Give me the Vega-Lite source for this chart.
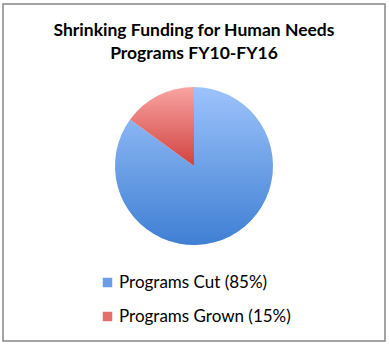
{
  "$schema": "https://vega.github.io/schema/vega-lite/v6.json",
  "width": 382,
  "height": 337,
  "autosize": "none",
  "padding": {"left": 3, "top": 4, "right": 4, "bottom": 4},
  "background": "white",
  "view": {"stroke": "#868686", "strokeWidth": 1.5, "fill": "white"},
  "config": {"font": "Lato"},
  "title": {
    "text": ["Shrinking Funding for Human Needs", "Programs FY10-FY16"],
    "font": "Lato",
    "fontSize": 17.5,
    "fontWeight": "bold",
    "color": "#000000",
    "anchor": "middle",
    "frame": "group",
    "lineHeight": 23,
    "offset": -58
  },
  "data": {
    "values": [
      {"category": "Programs Cut (85%)", "share": 85},
      {"category": "Programs Grown (15%)", "share": 15}
    ]
  },
  "encoding": {
    "theta": {"field": "share", "type": "quantitative", "stack": true},
    "order": {"field": "category", "sort": "ascending"}
  },
  "layer": [
    {
      "mark": {"type": "arc", "outerRadius": 79, "yOffset": -6.5, "stroke": null},
      "encoding": {
        "fill": {
          "condition": {
            "test": "datum.category === 'Programs Cut (85%)'",
            "value": {
              "gradient": "linear", "x1": 0, "y1": 0, "x2": 0, "y2": 1,
              "stops": [
                {"offset": 0, "color": "#9dc3fb"},
                {"offset": 1, "color": "#3f7fd3"}
              ]
            }
          },
          "value": {
            "gradient": "linear", "x1": 0, "y1": 0, "x2": 0, "y2": 1,
            "stops": [
              {"offset": 0, "color": "#f8a4a2"},
              {"offset": 1, "color": "#d1423f"}
            ]
          }
        }
      }
    },
    {
      "mark": {"type": "arc", "outerRadius": 0, "stroke": null},
      "encoding": {
        "color": {
          "field": "category",
          "type": "nominal",
          "sort": ["Programs Cut (85%)", "Programs Grown (15%)"],
          "scale": {"range": ["#6a9de6", "#e46e6c"]},
          "legend": {
            "title": null,
            "orient": "none",
            "legendX": 96,
            "legendY": 270,
            "symbolType": "square",
            "symbolSize": 90,
            "symbolStrokeWidth": 0,
            "labelFont": "Lato",
            "labelFontSize": 17,
            "labelColor": "#000000",
            "labelOffset": 3,
            "labelLimit": 400,
            "rowPadding": 16,
            "padding": 0,
            "symbolOpacity": 1,
            "encode": {
              "symbols": {
                "update": {
                  "fill": [
                    {
                      "test": "datum.value === 'Programs Cut (85%)'",
                      "value": {
                        "gradient": "linear", "x1": 0, "y1": 0, "x2": 0, "y2": 1,
                        "stops": [
                          {"offset": 0, "color": "#9dc3fb"},
                          {"offset": 1, "color": "#3f7fd3"}
                        ]
                      }
                    },
                    {
                      "value": {
                        "gradient": "linear", "x1": 0, "y1": 0, "x2": 0, "y2": 1,
                        "stops": [
                          {"offset": 0, "color": "#f8a4a2"},
                          {"offset": 1, "color": "#d1423f"}
                        ]
                      }
                    }
                  ]
                }
              }
            }
          }
        }
      }
    }
  ]
}
